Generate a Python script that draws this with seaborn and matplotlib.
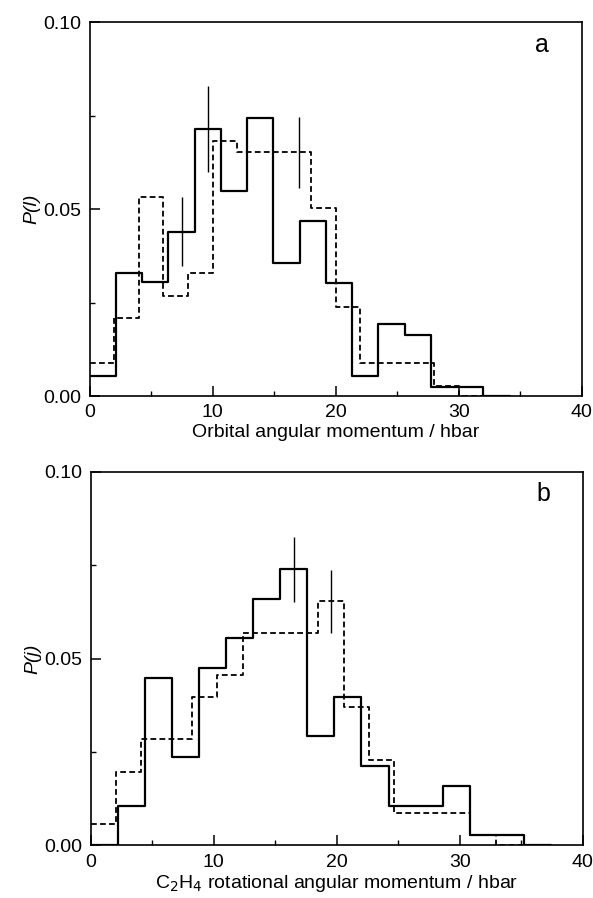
import numpy as np
import pandas as pd
import matplotlib
matplotlib.use("Agg")
import matplotlib.pyplot as plt
import seaborn as sns

# ---------------- data ----------------
# Panel a: orbital angular momentum
a_solid_edges = [0, 2.13, 4.27, 6.4, 8.53, 10.67, 12.8, 14.93, 17.07, 19.2,
                 21.33, 23.47, 25.6, 27.73, 29.87, 32.0, 34.13]
a_solid_vals = [0.0054, 0.0330, 0.0304, 0.0440, 0.0716, 0.0550, 0.0744, 0.0357,
                0.0469, 0.0303, 0.0054, 0.0192, 0.0163, 0.0024, 0.0024, 0.0]
a_dash_edges = [0, 2, 4, 6, 8, 10, 12, 14, 16, 18, 20, 22, 24, 26, 28, 30, 32]
a_dash_vals = [0.0088, 0.0208, 0.0534, 0.0268, 0.0328, 0.0682, 0.0654, 0.0654,
               0.0654, 0.0504, 0.0238, 0.0088, 0.0088, 0.0088, 0.0027, 0.0]
a_err_x = [7.5, 9.65, 17.0]
a_err_lo = [0.0349, 0.0601, 0.0558]
a_err_hi = [0.0532, 0.0829, 0.0746]

# Panel b: C2H4 rotational angular momentum
b_solid_edges = [0, 2.2, 4.4, 6.6, 8.8, 11.0, 13.2, 15.4, 17.6, 19.8, 22.0,
                 24.2, 26.4, 28.6, 30.8, 33.0, 35.2, 37.4]
b_solid_vals = [0.0, 0.0105, 0.0449, 0.0237, 0.0475, 0.0554, 0.0659, 0.0740,
                0.0293, 0.0398, 0.0212, 0.0105, 0.0105, 0.0160, 0.0027, 0.0027, 0.0]
b_dash_edges = [0, 2.06, 4.11, 6.17, 8.22, 10.28, 12.34, 14.39, 16.45, 18.5,
                20.56, 22.62, 24.67, 26.73, 28.78, 30.84, 32.9, 34.96]
b_dash_vals = [0.0056, 0.0197, 0.0284, 0.0284, 0.0398, 0.0455, 0.0568, 0.0568,
               0.0568, 0.0655, 0.0371, 0.0228, 0.0086, 0.0086, 0.0086, 0.0028, 0.0]
b_err_x = [16.5, 19.5]
b_err_lo = [0.0652, 0.0569]
b_err_hi = [0.0824, 0.0737]

x_ticks = [0, 10, 20, 30, 40]
y_ticks = [0.0, 0.05, 0.10]
y_tick_labels = ["0.00", "0.05", "0.10"]

# ---------------- style ----------------
sns.set_style("ticks")
plt.rcParams["font.family"] = ["Liberation Sans", "DejaVu Sans"]
plt.rcParams["axes.linewidth"] = 1.2
plt.rcParams["axes.edgecolor"] = "black"
plt.rcParams["text.color"] = "black"
plt.rcParams["axes.labelcolor"] = "black"
plt.rcParams["xtick.color"] = "black"
plt.rcParams["ytick.color"] = "black"

fig = plt.figure(figsize=(5.93, 8.98), dpi=100)
ax_a = fig.add_axes([0.151, 0.559, 0.830, 0.416])
ax_b = fig.add_axes([0.153, 0.0587, 0.830, 0.416])


def draw_hist(ax, edges, vals, **kw):
    centers = [(edges[i] + edges[i + 1]) / 2 for i in range(len(vals))]
    df = pd.DataFrame({"x": centers, "w": vals})
    sns.histplot(data=df, x="x", weights="w", bins=edges, element="step",
                 fill=False, stat="count", ax=ax, color="black", **kw)


def panel(ax, s_edges, s_vals, d_edges, d_vals, ex, elo, ehi, letter, xlabel, ylabel):
    draw_hist(ax, s_edges, s_vals, linewidth=1.6, linestyle="-")
    draw_hist(ax, d_edges, d_vals, linewidth=1.3, linestyle=(0, (3.2, 1.8)))
    ax.vlines(ex, elo, ehi, color="black", linewidth=1.0)
    ax.set_xlim(0, 40)
    ax.set_ylim(0, 0.10)
    ax.set_xticks(x_ticks)
    ax.set_xticks([5, 15, 25, 35], minor=True)
    ax.set_yticks(y_ticks)
    ax.set_yticklabels(y_tick_labels)
    ax.set_yticks([0.025, 0.075], minor=True)
    ax.tick_params(which="major", direction="in", length=7, width=1.1,
                   labelsize=14, pad=6, top=False, right=False)
    ax.tick_params(which="minor", direction="in", length=3.5, width=1.0)
    for s in ax.spines.values():
        s.set_visible(True)
        s.set_linewidth(1.2)
    ax.set_xlabel(xlabel, fontsize=14, labelpad=2)
    ax.set_ylabel(ylabel, fontsize=14, labelpad=2, fontstyle="italic")
    ax.text(0.92, 0.94, letter, transform=ax.transAxes, fontsize=18,
            ha="center", va="center")


panel(ax_a, a_solid_edges, a_solid_vals, a_dash_edges, a_dash_vals,
      a_err_x, a_err_lo, a_err_hi, "a", "Orbital angular momentum / hbar", "P(l)")
panel(ax_b, b_solid_edges, b_solid_vals, b_dash_edges, b_dash_vals,
      b_err_x, b_err_lo, b_err_hi, "b",
      "C$_2$H$_4$ rotational angular momentum / hbar", "P(j)")

fig.savefig("out.png", dpi=100)
